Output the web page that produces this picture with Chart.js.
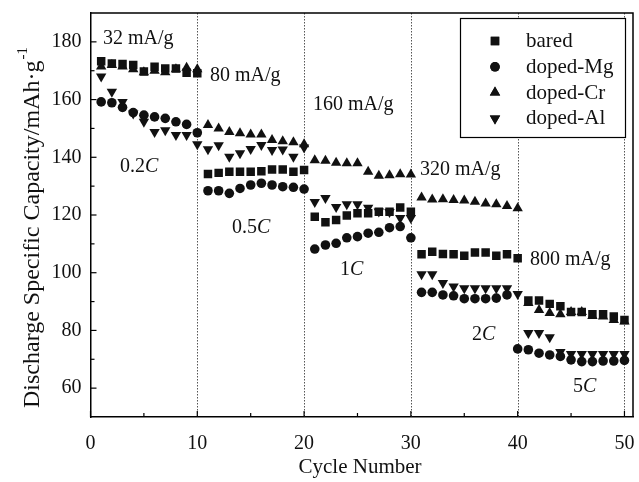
<!DOCTYPE html>
<html>
<head>
<meta charset="utf-8">
<script src="https://cdn.jsdelivr.net/npm/chart.js@4/dist/chart.umd.min.js"></script>
<style>
  html, body { margin: 0; padding: 0; background: #fff; }
  #wrap { width: 639px; height: 482px; }
</style>
</head>
<body>
<div id="wrap"><canvas id="myChart" width="639" height="482"></canvas></div>
<script>
// cycle numbers 1..50
var cycles = [1,2,3,4,5,6,7,8,9,10,11,12,13,14,15,16,17,18,19,20,21,22,23,24,25,26,27,28,29,30,31,32,33,34,35,36,37,38,39,40,41,42,43,44,45,46,47,48,49,50];

var bared = [173.3,172.5,172.3,172,169.7,171.4,170.8,170.8,169.3,169.1,
  134.2,134.6,135,135,135,135.2,135.8,135.8,135,135.6,
  119.4,117.5,118.3,119.8,120.6,120.6,121.1,121.1,122.6,121.1,
  106.4,107.3,106.5,106.4,105.9,107,107,105.9,106.4,105,
  90.4,90.4,89.2,88.4,86.4,86.4,85.6,85.6,84.8,83.6];

var dopedMg = [159.2,158.9,157.3,155.5,154.6,154,153.5,152.3,151.4,148.5,
  128.4,128.4,127.5,129.2,130.4,131,130.4,129.8,129.6,129,
  108.2,109.6,110.2,112.1,112.5,113.7,114,115.6,116,112.1,
  93.2,93.2,92.3,92,91,91,91,91.2,92.3,73.6,
  73.3,72.1,71.5,71,69.8,69.2,69.2,69.4,69.4,69.6];

var dopedCr = [171.5,172,171.5,170.5,169.5,170,169.5,170.5,171,170.5,
  151.2,150,148.8,148.3,147.9,147.9,146,145.6,145.2,144.5,
  139,138.8,138.1,137.9,137.9,135,133.6,133.8,134.1,134,
  126.1,125.4,125.5,125.2,125,124.6,124,123.7,123.1,122.3,
  89.5,87.1,86,85.6,86.4,86.4,85,84.8,83.6,83.1];

var dopedAl = [168,162.7,159.2,155.2,152.3,148.8,149.4,147.7,147.7,144.5,
  142.8,144.2,140.2,141.4,142.9,144.3,142.5,142.7,140.2,143.4,
  124.5,125.9,122.8,123.7,123.7,122.5,121.2,121,119,119,
  99.5,99.5,96.4,95.2,94.6,94.6,94.6,94.6,94.6,92.6,
  79.1,79.1,77.6,72.5,71.8,71.8,71.8,71.8,71.8,71.8];

var seriesNames = ['bared', 'doped-Mg', 'doped-Cr', 'doped-Al'];
var xTicks = [0, 10, 20, 30, 40, 50];
var xMinor = [5, 15, 25, 35, 45];
var yTicks = [60, 80, 100, 120, 140, 160, 180];
var yMinor = [70, 90, 110, 130, 150, 170];
var stepLines = [10, 20, 30, 40, 50];

// current density / rate labels
var rateLabels = [
  { text: '32 mA/g', x: 103, y: 44 },
  { text: '80 mA/g', x: 210, y: 81 },
  { text: '160 mA/g', x: 313, y: 110 },
  { text: '320 mA/g', x: 420, y: 175 },
  { text: '800 mA/g', x: 530, y: 265 }
];
var cLabels = [
  { num: '0.2', x: 120, y: 172 },
  { num: '0.5', x: 232, y: 233 },
  { num: '1', x: 340, y: 275 },
  { num: '2', x: 472, y: 340 },
  { num: '5', x: 573, y: 392 }
];

var serif = "'Liberation Serif', 'Times New Roman', serif";

function pts(arr) {
  return cycles.map(function (c, i) { return { x: c, y: arr[i] }; });
}

var styles = [
  { pointStyle: 'rect', radius: 6, rotation: 0 },
  { pointStyle: 'circle', radius: 4.8, rotation: 0 },
  { pointStyle: 'triangle', radius: 6, rotation: 0 },
  { pointStyle: 'triangle', radius: 6, rotation: 180 }
];

var allData = [bared, dopedMg, dopedCr, dopedAl];

var datasets = allData.map(function (arr, i) {
  return {
    label: seriesNames[i],
    data: pts(arr),
    showLine: false,
    pointStyle: styles[i].pointStyle,
    pointRadius: styles[i].radius,
    pointRotation: styles[i].rotation,
    backgroundColor: '#111',
    borderColor: '#111',
    borderWidth: 0,
    pointHoverRadius: styles[i].radius
  };
});

var decorations = {
  id: 'decorations',
  beforeDatasetsDraw: function (chart) {
    var ctx = chart.ctx;
    var a = chart.chartArea;
    var xs = chart.scales.x;
    ctx.save();
    ctx.strokeStyle = '#555';
    ctx.lineWidth = 1;
    ctx.setLineDash([1.5, 1.5]);
    stepLines.forEach(function (v) {
      var px = Math.round(xs.getPixelForValue(v)) + 0.5;
      ctx.beginPath();
      ctx.moveTo(px, a.top);
      ctx.lineTo(px, a.bottom);
      ctx.stroke();
    });
    ctx.restore();
  },
  afterDraw: function (chart) {
    var ctx = chart.ctx;
    var a = chart.chartArea;
    var xs = chart.scales.x;
    var ys = chart.scales.y;
    ctx.save();

    // frame
    ctx.strokeStyle = '#000';
    ctx.lineWidth = 1.5;
    ctx.beginPath();
    ctx.moveTo(a.left, a.top);
    ctx.lineTo(a.right, a.top);
    ctx.lineTo(a.right, a.bottom);
    ctx.stroke();

    // inward ticks
    ctx.lineWidth = 1.2;
    xTicks.forEach(function (v) {
      var px = xs.getPixelForValue(v);
      ctx.beginPath(); ctx.moveTo(px, a.bottom); ctx.lineTo(px, a.bottom - 6); ctx.stroke();
    });
    xMinor.forEach(function (v) {
      var px = xs.getPixelForValue(v);
      ctx.beginPath(); ctx.moveTo(px, a.bottom); ctx.lineTo(px, a.bottom - 4); ctx.stroke();
    });
    yTicks.forEach(function (v) {
      var py = ys.getPixelForValue(v);
      ctx.beginPath(); ctx.moveTo(a.left, py); ctx.lineTo(a.left + 6, py); ctx.stroke();
    });
    yMinor.forEach(function (v) {
      var py = ys.getPixelForValue(v);
      ctx.beginPath(); ctx.moveTo(a.left, py); ctx.lineTo(a.left + 4, py); ctx.stroke();
    });

    // annotations
    ctx.fillStyle = '#111';
    ctx.textBaseline = 'alphabetic';
    ctx.textAlign = 'left';
    ctx.font = '20px ' + serif;
    rateLabels.forEach(function (l) { ctx.fillText(l.text, l.x, l.y); });
    cLabels.forEach(function (l) {
      ctx.font = '20px ' + serif;
      ctx.fillText(l.num, l.x, l.y);
      var w = ctx.measureText(l.num).width;
      ctx.font = 'italic 20px ' + serif;
      ctx.fillText('C', l.x + w, l.y);
    });

    // legend
    ctx.fillStyle = '#fff';
    ctx.fillRect(460, 18, 165, 119);
    ctx.strokeStyle = '#000';
    ctx.lineWidth = 1.2;
    ctx.strokeRect(460.5, 18.5, 165, 119);
    ctx.fillStyle = '#111';
    ctx.font = '21px ' + serif;
    seriesNames.forEach(function (name, i) {
      var cy = 41 + i * 25.8;
      var st = styles[i];
      ctx.beginPath();
      Chart.helpers.drawPoint(ctx, {
        pointStyle: st.pointStyle,
        rotation: st.rotation,
        radius: st.radius,
        borderWidth: 0
      }, 495, cy);
      ctx.fill();
      ctx.fillText(name, 526, cy + 6);
    });

    // axis titles
    ctx.font = '21px ' + serif;
    ctx.textAlign = 'center';
    ctx.fillText('Cycle Number', 360, 473);

    ctx.save();
    ctx.translate(39, 408);
    ctx.rotate(-Math.PI / 2);
    ctx.textAlign = 'left';
    var main = 'Discharge Specific Capacity/mAh\u00B7g';
    ctx.font = '24px ' + serif;
    ctx.fillText(main, 0, 0);
    var mw = ctx.measureText(main).width;
    ctx.font = '15px ' + serif;
    ctx.fillText('-1', mw + 1, -12);
    ctx.restore();

    ctx.restore();
  }
};

window.addEventListener('load', function () {
  var ctx = document.getElementById('myChart').getContext('2d');
  var chart = new Chart(ctx, {
    type: 'scatter',
    data: { datasets: datasets },
    options: {
      responsive: false,
      animation: false,
      events: [],
      layout: { padding: { left: 0, right: 5, top: 13, bottom: 0 } },
      plugins: { legend: { display: false }, tooltip: { enabled: false } },
      scales: {
        x: {
          type: 'linear',
          min: 0,
          max: 50.8,
          afterBuildTicks: function (s) { s.ticks = xTicks.map(function (v) { return { value: v }; }); },
          afterFit: function (s) {
            s.height = 65;
            s.paddingLeft = 0;
            s.paddingRight = 0;
          },
          grid: { display: false, drawTicks: false },
          border: { display: true, color: '#000', width: 1.5 },
          ticks: { color: '#111', padding: 15, font: { family: serif, size: 20 }, maxRotation: 0 }
        },
        y: {
          type: 'linear',
          min: 50,
          max: 190,
          afterBuildTicks: function (s) { s.ticks = yTicks.map(function (v) { return { value: v }; }); },
          afterFit: function (s) {
            s.width = 90.5;
            s.paddingTop = 0;
            s.paddingBottom = 0;
          },
          grid: { display: false, drawTicks: false },
          border: { display: true, color: '#000', width: 1.5 },
          ticks: { color: '#111', padding: 9, font: { family: serif, size: 20 } }
        }
      }
    },
    plugins: [decorations]
  });
});
</script>
</body>
</html>
